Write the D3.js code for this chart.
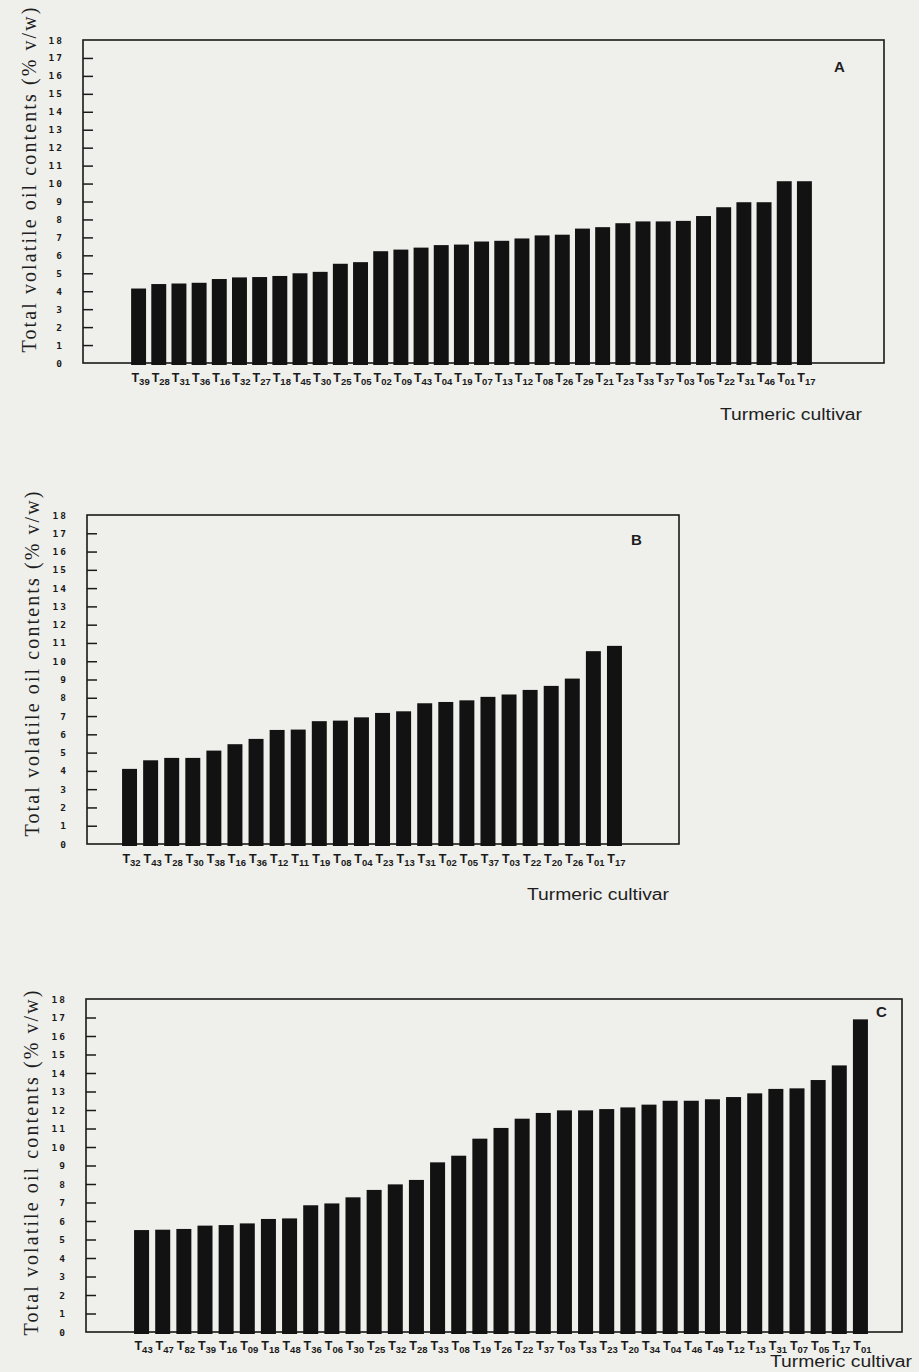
<!DOCTYPE html>
<html>
<head>
<meta charset="utf-8">
<script src="https://cdn.jsdelivr.net/npm/d3@7"></script>
<style>
  html, body { margin: 0; padding: 0; background: #efefec; }
  svg { display: block; }
</style>
</head>
<body>
<svg id="chart" width="919" height="1372"></svg>
<script>
// Total volatile oil contents (% v/w) of turmeric cultivars, three sets (A, B, C)
const cultivarsA = ["T39","T28","T31","T36","T16","T32","T27","T18","T45","T30","T25","T05","T02","T09","T43","T04","T19",
                    "T07","T13","T12","T08","T26","T29","T21","T23","T33","T37","T03","T05","T22","T31","T46","T01","T17"];
const oilA = [4.15,4.4,4.43,4.47,4.68,4.77,4.79,4.85,5.0,5.08,5.53,5.62,6.23,6.32,6.43,6.57,6.6,
              6.77,6.81,6.94,7.11,7.15,7.49,7.57,7.79,7.89,7.89,7.92,8.19,8.68,8.96,8.96,10.13,10.13];

const cultivarsB = ["T32","T43","T28","T30","T38","T16","T36","T12","T11","T19","T08","T04",
                    "T23","T13","T31","T02","T05","T37","T03","T22","T20","T26","T01","T17"];
const oilB = [4.11,4.58,4.71,4.71,5.11,5.46,5.75,6.24,6.26,6.72,6.75,6.93,
              7.17,7.26,7.7,7.77,7.86,8.05,8.18,8.43,8.65,9.05,10.55,10.84];

const cultivarsC = ["T43","T47","T82","T39","T16","T09","T18","T48","T36","T06","T30","T25","T32","T28","T33","T08","T19","T26",
                    "T22","T37","T03","T33","T23","T20","T34","T04","T46","T49","T12","T13","T31","T07","T05","T17","T01"];
const oilC = [5.51,5.53,5.57,5.75,5.78,5.87,6.11,6.14,6.85,6.95,7.28,7.68,7.98,8.22,9.17,9.53,10.45,11.03,
              11.53,11.84,11.98,11.98,12.05,12.14,12.29,12.5,12.5,12.58,12.7,12.9,13.14,13.17,13.62,14.41,16.9];

const yTicks = d3.range(0, 19);
const yTitle = "Total volatile oil contents (% v/w)";
const xTitle = "Turmeric cultivar";

const svg = d3.select("#chart");

function drawPanel(opt) {
  const g = svg.append("g");
  const y = d3.scaleLinear().domain([0, 18]).range([opt.bottom, opt.top]);
  const x = d3.scaleBand()
    .domain(d3.range(opt.names.length))
    .range([opt.barStart - opt.gap / 2, opt.barEnd + opt.gap / 2])
    .paddingInner(opt.pad).paddingOuter(opt.pad / 2);

  // frame
  g.append("rect")
    .attr("x", opt.left).attr("y", opt.top)
    .attr("width", opt.right - opt.left).attr("height", opt.bottom - opt.top)
    .attr("fill", "none").attr("stroke", "#1a1a1a").attr("stroke-width", 1.6);

  // y axis with inward ticks
  const ax = g.append("g")
    .attr("transform", `translate(${opt.left},0)`)
    .call(d3.axisLeft(y).tickValues(yTicks).tickSize(-10).tickPadding(19));
  ax.select(".domain").remove();
  ax.selectAll(".tick line").attr("stroke", "#1a1a1a").attr("stroke-width", 1.5)
    .filter(d => d === 0 || d === 18).remove();
  ax.selectAll(".tick text")
    .attr("fill", "#1a1a1a")
    .style("font-family", "'DejaVu Sans Mono', monospace")
    .style("font-weight", "bold")
    .style("font-size", "9.5px")
    .style("letter-spacing", "2px");

  // bars
  g.selectAll("rect.bar").data(opt.values).join("rect")
    .attr("class", "bar")
    .attr("x", (d, i) => x(i))
    .attr("width", x.bandwidth())
    .attr("y", d => y(d))
    .attr("height", d => y(0) - y(d) + 2)
    .attr("fill", "#131212");

  // cultivar labels: T with subscript number
  const lab = g.selectAll("text.cv").data(opt.names).join("text")
    .attr("class", "cv")
    .attr("x", (d, i) => x(i) + x.bandwidth() / 2 + 2)
    .attr("y", opt.labelY)
    .attr("text-anchor", "middle")
    .attr("fill", "#1a1a1a")
    .style("font-family", "'Liberation Sans Narrow', 'Liberation Sans', sans-serif")
    .style("font-weight", "bold");
  lab.append("tspan").style("font-size", "12.5px").text(d => d.slice(0, 1));
  lab.append("tspan").style("font-size", "9.5px").attr("dy", 3).text(d => d.slice(1));

  // axis titles
  g.append("text")
    .attr("transform", `translate(${opt.titleX},${opt.titleMid}) rotate(-90)`)
    .attr("text-anchor", "middle")
    .attr("textLength", 345).attr("lengthAdjust", "spacing")
    .attr("fill", "#1e1e1e")
    .style("font-family", "'Liberation Serif', serif")
    .style("font-size", "20px")
    .text(yTitle);

  g.append("text")
    .attr("x", opt.xTitleX).attr("y", opt.xTitleY)
    .attr("textLength", 142).attr("lengthAdjust", "spacingAndGlyphs")
    .attr("fill", "#1e1e1e")
    .style("font-family", "'Liberation Sans Narrow', 'Liberation Sans', sans-serif")
    .style("font-size", "16px")
    .text(xTitle);

  g.append("text")
    .attr("x", opt.tagX).attr("y", opt.tagY)
    .attr("fill", "#1e1e1e")
    .style("font-family", "'Liberation Sans', Arial, sans-serif")
    .style("font-weight", "bold")
    .style("font-size", "15px")
    .text(opt.tag);
}

drawPanel({ names: cultivarsA, values: oilA, tag: "A",
  left: 83, right: 884, top: 40, bottom: 363,
  barStart: 131, barEnd: 812, gap: 5, pad: 0.26,
  labelY: 382, titleX: 36, titleMid: 180,
  xTitleX: 720, xTitleY: 420, tagX: 834, tagY: 72 });

drawPanel({ names: cultivarsB, values: oilB, tag: "B",
  left: 87, right: 679, top: 515, bottom: 844,
  barStart: 122, barEnd: 622, gap: 6, pad: 0.29,
  labelY: 863, titleX: 39, titleMid: 664,
  xTitleX: 527, xTitleY: 900, tagX: 631, tagY: 545 });

drawPanel({ names: cultivarsC, values: oilC, tag: "C",
  left: 86, right: 902, top: 999, bottom: 1332,
  barStart: 134, barEnd: 868, gap: 6, pad: 0.29,
  labelY: 1350, titleX: 38, titleMid: 1163,
  xTitleX: 770, xTitleY: 1367, tagX: 876, tagY: 1017 });
</script>
</body>
</html>
